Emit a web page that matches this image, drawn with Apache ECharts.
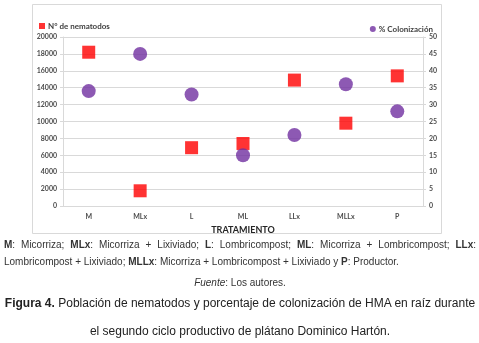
<!DOCTYPE html>
<html lang="es">
<head>
    <meta charset="UTF-8">
    <title>Figura 4</title>
    <script src="https://cdn.jsdelivr.net/npm/echarts@6/dist/echarts.min.js"></script>
    <style>
        html, body { margin: 0; padding: 0; background: #fff; }
        #box { position: absolute; left: 0; top: 0; width: 479px; height: 343px; }
        .cap { position: absolute; left: 4px; width: 472px; font-family: "Liberation Sans", Arial, sans-serif; color: #333; }
        .small { font-size: 10px; line-height: 17px; top: 236px; text-align: justify; }
        .fuente { font-size: 10px; top: 277px; text-align: center; width: 472px; }
        .fig { font-size: 12px; line-height: 28px; top: 289px; text-align: center; color: #222; white-space: nowrap; }
    </style>
</head>
<body>
    <div id="box"></div>
    <div class="cap small"><b>M</b>: Micorriza; <b>MLx</b>: Micorriza + Lixiviado; <b>L</b>: Lombricompost; <b>ML</b>: Micorriza + Lombricompost; <b>LLx</b>: Lombricompost + Lixiviado; <b>MLLx</b>: Micorriza + Lombricompost + Lixiviado y <b>P</b>: Productor.</div>
    <div class="cap fuente"><i>Fuente</i>: Los autores.</div>
    <div class="cap fig"><b>Figura 4.</b> Población de nematodos y porcentaje de colonización de HMA en raíz durante<br>el segundo ciclo productivo de plátano Dominico Hartón.</div>
    <script>
        // datos
        var tratamientos = ['M', 'MLx', 'L', 'ML', 'LLx', 'MLLx', 'P'];
        var nematodos = [18200, 1800, 6900, 7400, 14900, 9800, 15400];
        var colonizacion = [34, 45, 33, 15, 21, 36, 28];

        var labelStyle = { fontSize: 7, fontWeight: 'bold', color: '#4d4d4d', fontFamily: 'Lato' };
        var lineGray = '#d9d9d9';
        var plain = function (v) { return String(v); };

        var myChart = echarts.init(document.getElementById('box'));
        var option = {
            animation: false,
            backgroundColor: '#fff',
            graphic: [{
                type: 'rect',
                shape: { x: 32.5, y: 4.5, width: 409, height: 229 },
                style: { fill: 'none', stroke: lineGray, lineWidth: 1 }
            }],
            legend: [
                {
                    left: 34, top: 17,
                    itemWidth: 6, itemHeight: 6, itemGap: 4,
                    data: [{ name: 'N° de nematodos', icon: 'rect' }],
                    textStyle: { fontSize: 8, fontWeight: 'bold', color: '#404040', fontFamily: 'Lato', padding: [0, 0, 0, -2] }
                },
                {
                    right: 41, top: 20,
                    itemWidth: 6, itemHeight: 6,
                    data: [{ name: '% Colonización', icon: 'circle' }],
                    textStyle: { fontSize: 8, fontWeight: 'bold', color: '#404040', fontFamily: 'Lato', padding: [0, 0, 0, -2] }
                }
            ],
            grid: { left: 63, right: 56, top: 37, bottom: 137 },
            xAxis: {
                type: 'category',
                data: tratamientos,
                boundaryGap: true,
                name: 'TRATAMIENTO',
                nameLocation: 'middle',
                nameGap: 20,
                nameTextStyle: { fontSize: 9, fontWeight: 'bold', color: '#262626', fontFamily: 'Lato' },
                axisLine: { lineStyle: { color: lineGray } },
                axisTick: { length: 3, lineStyle: { color: lineGray } },
                axisLabel: Object.assign({ margin: 7 }, labelStyle)
            },
            yAxis: [
                {
                    type: 'value', min: 0, max: 20000, interval: 2000,
                    axisLine: { show: true, lineStyle: { color: lineGray } },
                    axisTick: { show: true, length: 3, lineStyle: { color: lineGray } },
                    splitLine: { lineStyle: { color: lineGray } },
                    axisLabel: Object.assign({ margin: 6, formatter: plain }, labelStyle)
                },
                {
                    type: 'value', min: 0, max: 50, interval: 5,
                    axisLine: { show: true, lineStyle: { color: lineGray } },
                    axisTick: { show: true, length: 3, lineStyle: { color: lineGray } },
                    splitLine: { show: false },
                    axisLabel: Object.assign({ margin: 6, formatter: plain }, labelStyle)
                }
            ],
            series: [
                {
                    name: 'N° de nematodos',
                    type: 'scatter',
                    yAxisIndex: 0,
                    symbol: 'rect',
                    symbolSize: 13,
                    itemStyle: { color: '#ff0000' },
                    data: nematodos
                },
                {
                    name: '% Colonización',
                    type: 'scatter',
                    yAxisIndex: 1,
                    symbol: 'circle',
                    symbolSize: 14,
                    itemStyle: { color: '#7030a0' },
                    data: colonizacion
                }
            ]
        };
        myChart.setOption(option);
    </script>
</body>
</html>
